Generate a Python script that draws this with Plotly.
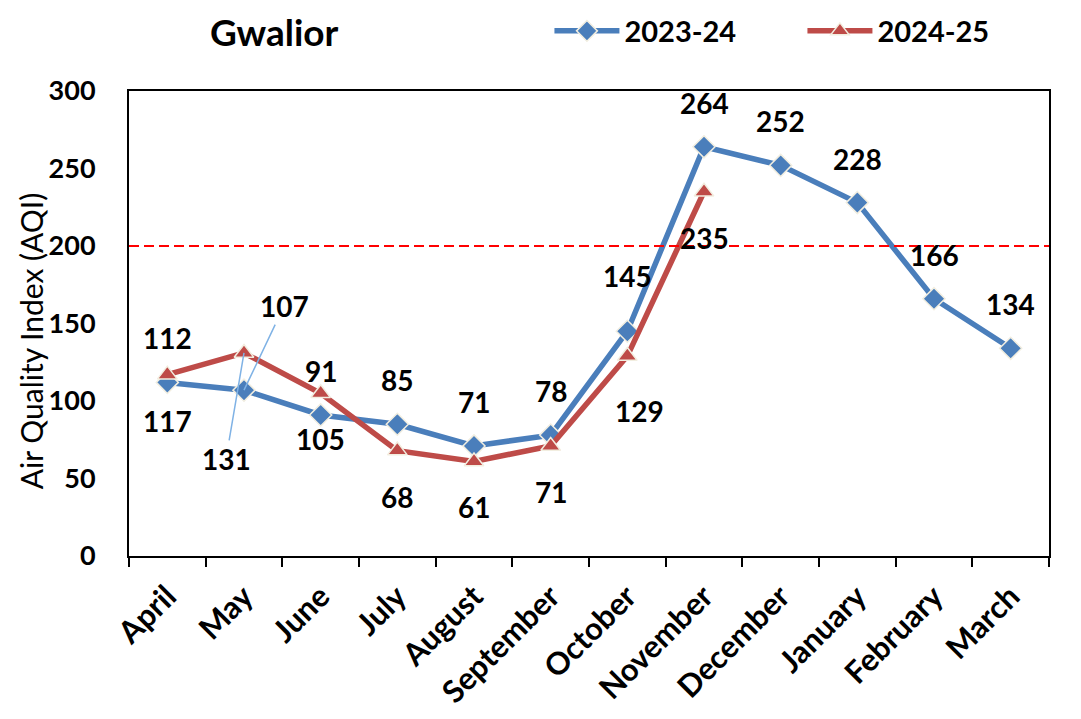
import plotly.graph_objects as go

months = ["April", "May", "June", "July", "August", "September", "October",
          "November", "December", "January", "February", "March"]
aqi_2324 = [112, 107, 91, 85, 71, 78, 145, 264, 252, 228, 166, 134]
aqi_2425 = [117, 131, 105, 68, 61, 71, 129, 235, None, None, None, None]
limit = 200

BLUE = "#4A7EBB"
RED = "#BE4B48"
FONT = "Lato"

fig = go.Figure()
fig.add_trace(go.Scatter(
    x=months, y=aqi_2324, name="<b>2023-24</b>", mode="lines+markers",
    line=dict(color=BLUE, width=5.5),
    marker=dict(symbol="diamond", size=17, color=BLUE,
                line=dict(color="#F2EEE0", width=1.5)),
))
fig.add_trace(go.Scatter(
    x=months, y=aqi_2425, name="<b>2024-25</b>", mode="lines+markers",
    line=dict(color=RED, width=5.5),
    marker=dict(symbol="triangle-up", size=17, color=RED,
                line=dict(color="#F2EEE0", width=1.5)),
))

# threshold line
fig.add_shape(type="line", xref="paper", x0=0, x1=1, yref="y", y0=limit, y1=limit,
              line=dict(color="#FF0000", width=2, dash="10px,5px"))

lab_font = dict(family=FONT, size=28, color="black")
ann = []
for m, v in zip(months, aqi_2324):
    if m == "May":
        ann.append(dict(x=m, y=v, text=f"<b>{v}</b>", showarrow=True,
                        ax=40, ay=-84, arrowhead=0, arrowcolor="#7FB2E5",
                        arrowwidth=1.5, standoff=0, font=lab_font))
        continue
    xs, ys = 0, 44
    if m == "October":
        xs, ys = 0, 55
    ann.append(dict(x=m, y=v, text=f"<b>{v}</b>", showarrow=False,
                    xshift=xs, yshift=ys, font=lab_font))
for m, v in zip(months, aqi_2425):
    if v is None:
        continue
    if m == "May":
        ann.append(dict(x=m, y=v, text=f"<b>{v}</b>", showarrow=True,
                        ax=-18, ay=106, arrowhead=0, arrowcolor="#7FB2E5",
                        arrowwidth=1.5, standoff=0, font=lab_font))
        continue
    xs, ys = 0, -46
    if m == "October":
        xs, ys = 12, -55
    ann.append(dict(x=m, y=v, text=f"<b>{v}</b>", showarrow=False,
                    xshift=xs, yshift=ys, font=lab_font))

# y-axis title as a rotated annotation
ann.append(dict(xref="paper", yref="paper", x=-0.1065, y=0.462, text="Air Quality Index (AQI)",
                textangle=-90, showarrow=False, xanchor="center", yanchor="middle",
                font=dict(family=FONT, size=30, color="black")))
# chart title
ann.append(dict(xref="paper", yref="paper", x=(207 - 128) / 920, y=(555 - 31) / 465,
                text="<b>Gwalior</b>", showarrow=False, xanchor="left", yanchor="middle",
                font=dict(family=FONT, size=37, color="black")))

fig.update_layout(
    width=1081, height=719,
    margin=dict(l=121, r=40, t=83, b=171, autoexpand=False),
    paper_bgcolor="white", plot_bgcolor="white",
    legend=dict(orientation="h", x=0.457, xanchor="left", y=1.129, yanchor="middle",
                font=dict(family=FONT, size=29, color="black"),
                bgcolor="rgba(0,0,0,0)", itemwidth=65,
                entrywidth=173, entrywidthmode="pixels"),
    showlegend=True,
    annotations=ann,
    font=dict(family=FONT, color="black"),
)
fig.update_xaxes(
    type="category", tickson="boundaries", ticks="outside", ticklen=9,
    tickcolor="black", tickwidth=2, showline=True, linecolor="black", linewidth=2,
    mirror=True, showgrid=False, tickangle=-45, ticklabelstandoff=8,
    tickfont=dict(family=FONT, size=31, color="black"),
    range=[-0.5, 11.5],
    ticktext=[f"<b>{m}</b>" for m in months], tickvals=months,
)
fig.update_yaxes(
    range=[0, 300], dtick=50, showgrid=False, showline=True, linecolor="black",
    linewidth=2, mirror=True, ticks="", zeroline=False, ticklabelstandoff=26,
    tickfont=dict(family=FONT, size=27, color="black"),
    tickprefix="<b>", ticksuffix="</b>",
)
fig.add_shape(type="rect", xref="paper", yref="paper", x0=-0.1337, x1=1.0293, y0=-0.6, y1=1.4,
              line=dict(color="#C9DAF0", width=2), layer="below")

fig.write_html("out.html")
